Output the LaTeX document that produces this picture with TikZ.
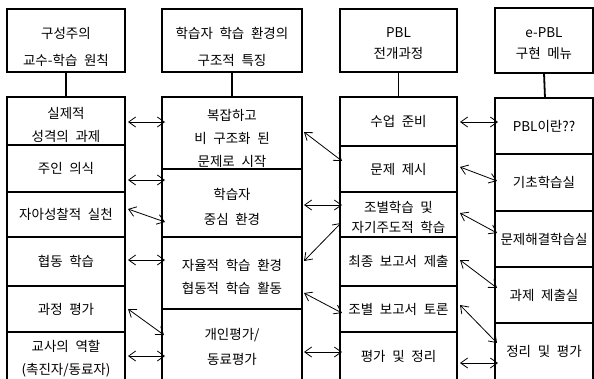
\documentclass[tikz,border=0pt]{standalone}
\usepackage{fontspec}
\setmainfont{Noto Sans CJK KR}[WordSpace=2.2]
\usetikzlibrary{arrows.meta,calc}
\tikzset{
  hdr/.style={draw, line width=1.8pt, anchor=north west, inner sep=0pt, outer sep=0pt},
  cell/.style={draw, line width=1.1pt, anchor=north west, inner sep=0pt, outer sep=0pt},
  txt/.style={align=center, inner sep=0pt, font=\fontsize{13.5pt}{23pt}\selectfont},
  mtxt/.style={txt, yshift=-4pt},
  htxt/.style={align=center, inner sep=0pt, yshift=-6.5pt, font=\fontsize{13.5pt}{27pt}\selectfont},
  htxtb/.style={align=center, inner sep=0pt, yshift=-3.5pt, font=\fontsize{13.5pt}{21pt}\selectfont},
  colframe/.style={line width=1.8pt},
  link/.style={line width=1.8pt},
  biarrow/.style={line width=0.8pt, {Straight Barb[length=7pt,width=10pt]}-{Straight Barb[length=7pt,width=10pt]}},
}
\begin{document}
\begin{tikzpicture}[x=1pt,y=-1pt]
\useasboundingbox (0,0) rectangle (594,378);
\clip (0,0) rectangle (594,378);
% headers
\node[hdr, minimum width=118pt, minimum height=63pt, label={[htxt]center:구성주의\\교수-학습 원칙}] (h1) at (7,9) {};
\node[hdr, minimum width=140pt, minimum height=63pt, label={[htxt]center:학습자 학습 환경의\\구조적 특징}] (h2) at (162,9) {};
\node[hdr, minimum width=117pt, minimum height=63pt, label={[htxtb]center:PBL\\전개과정}] (h3) at (340,9) {};
\node[hdr, minimum width=98pt, minimum height=65pt, label={[htxtb]center:e-PBL\\구현 메뉴}] (h4) at (495,8) {};
% column 1
\node[cell, minimum width=118pt, minimum height=48pt, label={[mtxt]center:실제적\\성격의 과제}] (c1r1) at (7,97) {};
\node[cell, minimum width=118pt, minimum height=47pt, label={[txt]center:주인 의식}] (c1r2) at (7,145) {};
\node[cell, minimum width=118pt, minimum height=45pt, label={[txt]center:자아성찰적 실천}] (c1r3) at (7,192) {};
\node[cell, minimum width=118pt, minimum height=49pt, label={[txt]center:협동 학습}] (c1r4) at (7,237) {};
\node[cell, minimum width=118pt, minimum height=46pt, label={[txt]center:과정 평가}] (c1r5) at (7,286) {};
\node[cell, minimum width=118pt, minimum height=48pt, label={[txt,yshift=-3pt]center:교사의 역할\\(촉진자/동료자)}] (c1r6) at (7,332) {};
% column 2
\node[cell, minimum width=140pt, minimum height=72pt, label={[txt,yshift=-5pt]center:복잡하고\\비 구조화 된\\문제로 시작}] (c2r1) at (162,97) {};
\node[cell, minimum width=140pt, minimum height=68pt, label={[mtxt,font=\fontsize{13.5pt}{25pt}\selectfont]center:학습자\\중심 환경}] (c2r2) at (162,169) {};
\node[cell, minimum width=140pt, minimum height=72pt, label={[mtxt]center:자율적 학습 환경\\협동적 학습 활동}] (c2r3) at (162,237) {};
\node[cell, minimum width=140pt, minimum height=71pt, label={[txt,yshift=-2pt,font=\fontsize{13.5pt}{25pt}\selectfont]center:개인평가/\\동료평가}] (c2r4) at (162,309) {};
% column 3
\node[cell, minimum width=117pt, minimum height=49pt, label={[txt]center:수업 준비}] (c3r1) at (340,97) {};
\node[cell, minimum width=117pt, minimum height=46pt, label={[txt]center:문제 제시}] (c3r2) at (340,146) {};
\node[cell, minimum width=117pt, minimum height=45pt, label={[txt,yshift=-3pt,font=\fontsize{13.5pt}{20pt}\selectfont]center:조별학습 및\\자기주도적 학습}] (c3r3) at (340,192) {};
\node[cell, minimum width=117pt, minimum height=49pt, label={[txt]center:최종 보고서 제출}] (c3r4) at (340,237) {};
\node[cell, minimum width=117pt, minimum height=46pt, label={[txt]center:조별 보고서 토론}] (c3r5) at (340,286) {};
\node[cell, minimum width=117pt, minimum height=48pt, label={[txt]center:평가 및 정리}] (c3r6) at (340,332) {};
% column 4
\node[cell, minimum width=98pt, minimum height=56pt, label={[txt]center:PBL이란??}] (c4r1) at (495,98) {};
\node[cell, minimum width=98pt, minimum height=57pt, label={[txt]center:기초학습실}] (c4r2) at (495,154) {};
\node[cell, minimum width=98pt, minimum height=56pt, label={[txt]center:문제해결학습실}] (c4r3) at (495,211) {};
\node[cell, minimum width=98pt, minimum height=56pt, label={[txt]center:과제 제출실}] (c4r4) at (495,267) {};
\node[cell, minimum width=98pt, minimum height=57pt, label={[txt]center:정리 및 평가}] (c4r5) at (495,323) {};
% column frames
\draw[colframe] (c1r1.north west) rectangle (c1r6.south east);
\draw[colframe] (c2r1.north west) rectangle (c2r4.south east);
\draw[colframe] (c3r1.north west) rectangle (c3r6.south east);
\draw[colframe] (c4r1.north west) rectangle (c4r5.south east);
% header links
\draw[link] (h1.south) -- (c1r1.north);
\draw[link] (h2.south) -- (c2r1.north);
\draw[link] (h3.south) -- (c3r1.north);
\draw[link] (h4.south) -- ($(c4r1.north)+(1,0)$);
% arrows col1 - col2
\draw[biarrow] ($(c1r1.north east)+(3,25)$) -- ($(c2r1.north west)+(3,25)$);
\draw[biarrow] ($(c1r2.north east)+(3,35)$) -- ($(c2r2.north west)+(3,11)$);
\draw[biarrow] ($(c1r3.north east)+(3,17)$) -- ($(c2r2.north west)+(3,53)$);
\draw[biarrow] ($(c1r4.north east)+(3,23)$) -- ($(c2r3.north west)+(3,23)$);
\draw[biarrow] ($(c1r5.north east)+(3,23)$) -- ($(c2r4.north west)+(2,26)$);
\draw[biarrow] ($(c1r6.north east)+(3,24)$) -- ($(c2r4.north west)+(3,47)$);
% arrows col2 - col3
\draw[biarrow] ($(c2r1.north east)+(2,35)$) -- ($(c3r2.north west)+(2,15)$);
\draw[biarrow] ($(c2r2.north east)+(2,36)$) -- ($(c3r3.north west)+(2,13)$);
\draw[biarrow] ($(c2r3.north east)+(2,24)$) -- ($(c3r3.north west)+(1,31)$);
\draw[biarrow] ($(c2r3.north east)+(2,56)$) -- ($(c3r5.north west)+(2,27)$);
\draw[biarrow] ($(c2r4.north east)+(2,43)$) -- ($(c3r6.north west)+(2,20)$);
% arrows col3 - col4
\draw[biarrow] ($(c3r1.north east)+(3,25)$) -- ($(c4r1.north west)+(3,24)$);
\draw[biarrow] ($(c3r2.north east)+(3,21)$) -- ($(c4r2.north west)+(2,27)$);
\draw[biarrow] ($(c3r3.north east)+(3,21)$) -- ($(c4r3.north west)+(2,22)$);
\draw[biarrow] ($(c3r4.north east)+(3,23)$) -- ($(c4r4.north west)+(2,21)$);
\draw[biarrow] ($(c3r5.north east)+(3,19)$) -- ($(c4r5.north west)+(2,20)$);
\draw[biarrow] ($(c3r6.north east)+(3,31)$) -- ($(c4r5.north west)+(3,40)$);
\end{tikzpicture}
\end{document}
